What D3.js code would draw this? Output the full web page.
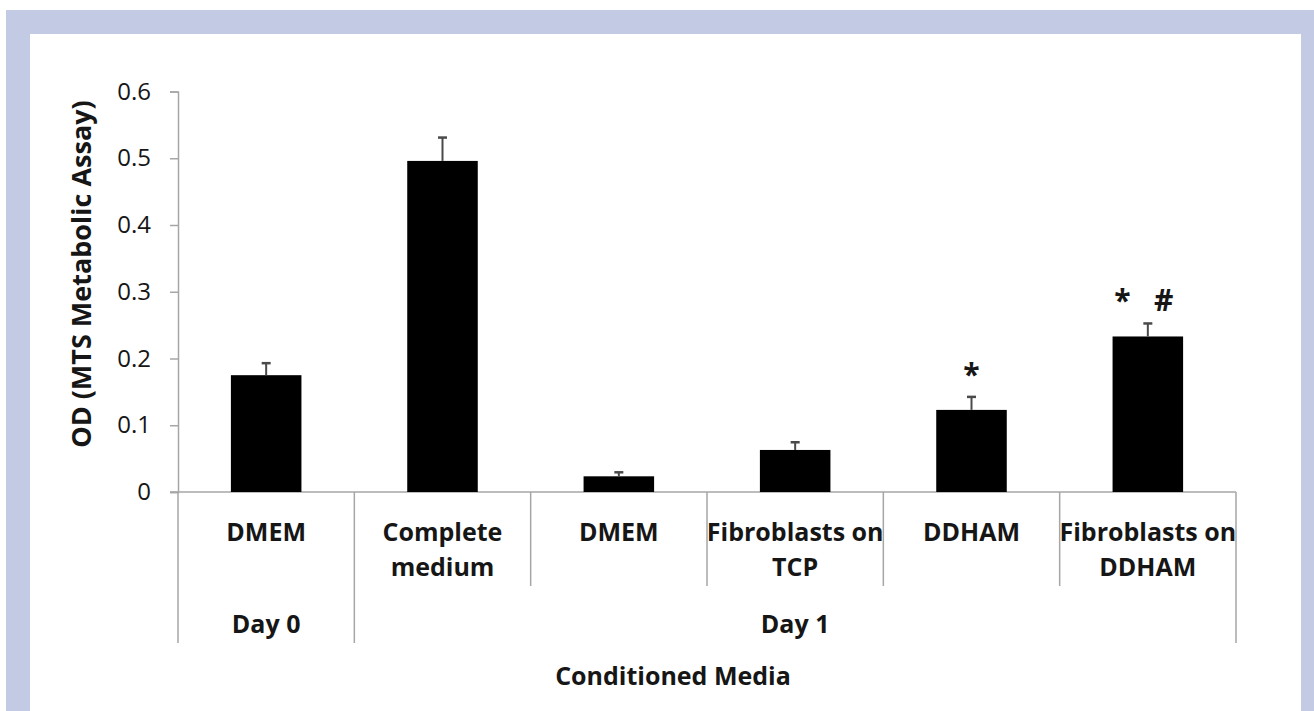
<!DOCTYPE html>
<html>
<head>
<meta charset="utf-8">
<script src="https://cdn.jsdelivr.net/npm/d3@7"></script>
<style>
  html, body { margin: 0; padding: 0; background: #ffffff; }
  svg { display: block; }
  text { font-family: "Open Sans", Lato, sans-serif; fill: #161616; }
</style>
</head>
<body>
<svg id="chart" width="1314" height="711"></svg>
<script>
// Categories (first label line / second label line) and their grouping
const categoryLine1 = ["DMEM", "Complete", "DMEM", "Fibroblasts on", "DDHAM", "Fibroblasts on"];
const categoryLine2 = ["", "medium", "", "TCP", "", "DDHAM"];
const groupNames = ["Day 0", "Day 1"];
const groupSizes = [1, 5];

// Mean OD and standard error per condition
const meanOD = [0.175, 0.496, 0.0235, 0.063, 0.123, 0.233];
const errorOD = [0.018, 0.035, 0.006, 0.0115, 0.0195, 0.0195];

// Significance markers above the bars
const markers = ["", "", "", "", "*", "*   #"];

const yTicks = [0, 0.1, 0.2, 0.3, 0.4, 0.5, 0.6];
const yTitle = "OD (MTS Metabolic Assay)";
const xTitle = "Conditioned Media";

const svg = d3.select("#chart");

// Framed panel
const frame = "#c3cae3";
svg.append("rect").attr("x", 6).attr("y", 10).attr("width", 1308).attr("height", 701).attr("fill", frame);
svg.append("rect").attr("x", 30).attr("y", 34).attr("width", 1271).attr("height", 677).attr("fill", "#ffffff");

const plotLeft = 178, plotRight = 1236, plotTop = 91.5, plotBottom = 492;
const axisColor = "#a6a6a6";
const labelSize = "25px", tickSize = "24px";

const x = d3.scaleBand().domain(d3.range(categoryLine1.length)).range([plotLeft, plotRight]).paddingInner(0).paddingOuter(0);
const y = d3.scaleLinear().domain([0, 0.6]).range([plotBottom, plotTop]);

// Y axis
const yAxis = d3.axisLeft(y).tickValues(yTicks).tickSize(8).tickPadding(19)
  .tickFormat(d => d === 0 ? "0" : d3.format(".1f")(d));
const gy = svg.append("g").attr("transform", `translate(${plotLeft},0)`).call(yAxis);
gy.select(".domain").attr("stroke", axisColor).attr("stroke-width", 1.5);
gy.selectAll(".tick line").attr("stroke", axisColor).attr("stroke-width", 1.5);
gy.selectAll(".tick text").style("font-size", tickSize).style("font-family", "'Open Sans', sans-serif").attr("fill", "#222");

// Baseline
svg.append("line").attr("x1", plotLeft - 8).attr("x2", plotRight).attr("y1", y(0)).attr("y2", y(0))
  .attr("stroke", axisColor).attr("stroke-width", 1.5);

// Category separators: short within a group, long at group edges
const groupEdges = new Set([0]);
let acc = 0;
groupSizes.forEach(s => { acc += s; groupEdges.add(acc); });
d3.range(categoryLine1.length + 1).forEach(i => {
  const xx = i < categoryLine1.length ? x(i) : x(categoryLine1.length - 1) + x.bandwidth();
  svg.append("line").attr("x1", xx).attr("x2", xx).attr("y1", y(0))
    .attr("y2", groupEdges.has(i) ? 643 : 586)
    .attr("stroke", axisColor).attr("stroke-width", 1.5);
});

// Bars
const barW = x.bandwidth() * 0.4;
svg.append("g").selectAll("rect").data(meanOD).join("rect")
  .attr("x", (d, i) => x(i) + (x.bandwidth() - barW) / 2)
  .attr("y", d => y(d))
  .attr("width", barW)
  .attr("height", d => y(0) - y(d))
  .attr("fill", "#000");

// Error bars (upper whisker only)
const eg = svg.append("g").attr("stroke", "#4a4a4a").attr("stroke-width", 2);
meanOD.forEach((m, i) => {
  const cx = x(i) + x.bandwidth() / 2;
  eg.append("line").attr("x1", cx).attr("x2", cx).attr("y1", y(m)).attr("y2", y(m + errorOD[i]));
  eg.append("line").attr("x1", cx - 4.5).attr("x2", cx + 4.5).attr("y1", y(m + errorOD[i])).attr("y2", y(m + errorOD[i])).attr("stroke-width", 2.5);
});

// Significance markers
markers.forEach((t, i) => {
  if (!t) return;
  const cx = x(i) + x.bandwidth() / 2;
  svg.append("text").attr("x", cx - (t.length > 1 ? 4 : 0)).attr("y", y(meanOD[i] + errorOD[i]) - 12)
    .attr("text-anchor", "middle").style("font-size", "30px").style("font-weight", "bold")
    .style("white-space", "pre").attr("xml:space", "preserve").text(t);
});

// Category labels
categoryLine1.forEach((t, i) => {
  const cx = x(i) + x.bandwidth() / 2;
  const tx = svg.append("text").attr("text-anchor", "middle").style("font-size", labelSize).style("font-weight", "bold");
  tx.append("tspan").attr("x", cx).attr("y", 541).text(t);
  if (categoryLine2[i]) tx.append("tspan").attr("x", cx).attr("y", 576).text(categoryLine2[i]);
});

// Group labels
let start = 0;
groupNames.forEach((g, gi) => {
  const x0 = x(start), x1 = x(start + groupSizes[gi] - 1) + x.bandwidth();
  svg.append("text").attr("x", (x0 + x1) / 2).attr("y", 633).attr("text-anchor", "middle")
    .style("font-size", labelSize).style("font-weight", "bold").text(g);
  start += groupSizes[gi];
});

// Axis titles
svg.append("text").attr("x", 673).attr("y", 685).attr("text-anchor", "middle")
  .style("font-size", labelSize).style("font-weight", "bold").text(xTitle);
svg.append("text").attr("transform", `translate(91,274) rotate(-90)`)
  .attr("text-anchor", "middle").style("font-size", "27px").style("font-weight", "bold").text(yTitle);
</script>
</body>
</html>
